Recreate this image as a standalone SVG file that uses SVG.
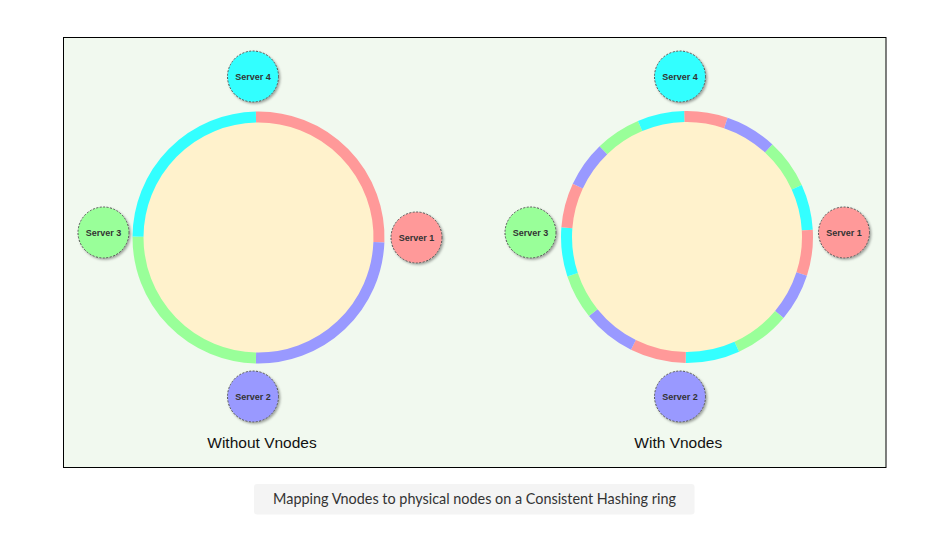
<svg xmlns="http://www.w3.org/2000/svg" width="936" height="539" viewBox="0 0 936 539">
  <defs>
    <filter id="shadow" x="-30%" y="-30%" width="160%" height="160%">
      <feDropShadow dx="1.5" dy="1.5" stdDeviation="1.2" flood-color="#000" flood-opacity="0.35"/>
    </filter>
  </defs>
  <style>
    .seg { fill: none; stroke-width: 11; stroke-linecap: butt; }
    .r { stroke: #ff9999; }
    .b { stroke: #9999ff; }
    .g { stroke: #99ff99; }
    .c { stroke: #33ffff; }
    .core { fill: #fff2cc; }
    .srv { stroke: #555555; stroke-width: 1; stroke-dasharray: 2 1.5; filter: url(#shadow); }
    .srvt { font-family: "Liberation Sans", Arial, sans-serif; font-size: 9px; font-weight: bold; fill: #333333; text-anchor: middle; }
    .lbl { font-family: "Liberation Sans", Arial, sans-serif; font-size: 15.5px; fill: #111111; text-anchor: middle; }
    .cap { font-family: Lato, "Open Sans", sans-serif; font-size: 14.4px; fill: #333333; text-anchor: middle; }
  </style>
  <rect x="0" y="0" width="936" height="539" fill="#ffffff"/>
  <rect x="63.5" y="37.5" width="822.5" height="430" fill="#f1f9ef" stroke="#000000" stroke-width="1"/>

  <!-- Left ring: without vnodes -->
  <g id="ring-left">
    <circle class="core" cx="258.5" cy="237.5" r="120.5"/>
    <path class="seg r" d="M255.98 117.03 A120.5 120.5 0 0 1 378.9 242.34"/>
    <path class="seg b" d="M378.9 242.34 A120.5 120.5 0 0 1 255.98 357.97"/>
    <path class="seg g" d="M255.98 357.97 A120.5 120.5 0 0 1 138 236.66"/>
    <path class="seg c" d="M138 236.66 A120.5 120.5 0 0 1 255.98 117.03"/>
  </g>

  <!-- Right ring: with vnodes -->
  <g id="ring-right">
    <circle class="core" cx="687" cy="237" r="120.5"/>
    <path class="seg r" d="M684.27 116.53 A120.5 120.5 0 0 1 725.84 122.93"/>
    <path class="seg b" d="M725.84 122.93 A120.5 120.5 0 0 1 768.72 148.45"/>
    <path class="seg g" d="M768.72 148.45 A120.5 120.5 0 0 1 796.74 187.22"/>
    <path class="seg c" d="M796.74 187.22 A120.5 120.5 0 0 1 807.3 230.06"/>
    <path class="seg r" d="M807.3 230.06 A120.5 120.5 0 0 1 801.67 274.04"/>
    <path class="seg b" d="M801.67 274.04 A120.5 120.5 0 0 1 779.31 314.46"/>
    <path class="seg g" d="M779.31 314.46 A120.5 120.5 0 0 1 736.78 346.74"/>
    <path class="seg c" d="M736.78 346.74 A120.5 120.5 0 0 1 685.74 357.49"/>
    <path class="seg r" d="M685.74 357.49 A120.5 120.5 0 0 1 633.43 344.93"/>
    <path class="seg b" d="M633.43 344.93 A120.5 120.5 0 0 1 593.23 312.67"/>
    <path class="seg g" d="M593.23 312.67 A120.5 120.5 0 0 1 572.6 274.84"/>
    <path class="seg c" d="M572.6 274.84 A120.5 120.5 0 0 1 566.86 227.76"/>
    <path class="seg r" d="M566.86 227.76 A120.5 120.5 0 0 1 577.79 186.08"/>
    <path class="seg b" d="M577.79 186.08 A120.5 120.5 0 0 1 603.45 150.17"/>
    <path class="seg g" d="M603.45 150.17 A120.5 120.5 0 0 1 640.11 126"/>
    <path class="seg c" d="M640.11 126 A120.5 120.5 0 0 1 684.27 116.53"/>
  </g>

  <!-- Servers, left -->
  <g id="left-server-4">
    <circle class="srv" cx="253" cy="76.5" r="25.5" fill="#33ffff"/>
    <text class="srvt" x="253" y="79.7">Server 4</text>
  </g>
  <g id="left-server-1">
    <circle class="srv" cx="416.5" cy="237.5" r="25.5" fill="#ff9999"/>
    <text class="srvt" x="416.5" y="240.7">Server 1</text>
  </g>
  <g id="left-server-3">
    <circle class="srv" cx="103.5" cy="232.5" r="25.5" fill="#99ff99"/>
    <text class="srvt" x="103.5" y="235.7">Server 3</text>
  </g>
  <g id="left-server-2">
    <circle class="srv" cx="253" cy="396.5" r="25.5" fill="#9999ff"/>
    <text class="srvt" x="253" y="399.7">Server 2</text>
  </g>

  <!-- Servers, right -->
  <g id="right-server-4">
    <circle class="srv" cx="680" cy="76.5" r="25.5" fill="#33ffff"/>
    <text class="srvt" x="680" y="79.7">Server 4</text>
  </g>
  <g id="right-server-1">
    <circle class="srv" cx="844" cy="232.5" r="25.5" fill="#ff9999"/>
    <text class="srvt" x="844" y="235.7">Server 1</text>
  </g>
  <g id="right-server-3">
    <circle class="srv" cx="530.5" cy="232.5" r="25.5" fill="#99ff99"/>
    <text class="srvt" x="530.5" y="235.7">Server 3</text>
  </g>
  <g id="right-server-2">
    <circle class="srv" cx="680" cy="396.5" r="25.5" fill="#9999ff"/>
    <text class="srvt" x="680" y="399.7">Server 2</text>
  </g>

  <g id="connectors"/>

  <g id="labels">
    <text class="lbl" x="262" y="447.5">Without Vnodes</text>
    <text class="lbl" x="678.3" y="447.5">With Vnodes</text>
  </g>

  <g id="caption">
    <rect x="254" y="484" width="440.5" height="30.5" rx="3" fill="#f4f4f4"/>
    <text class="cap" x="474.5" y="504">Mapping Vnodes to physical nodes on a Consistent Hashing ring</text>
  </g>
</svg>
